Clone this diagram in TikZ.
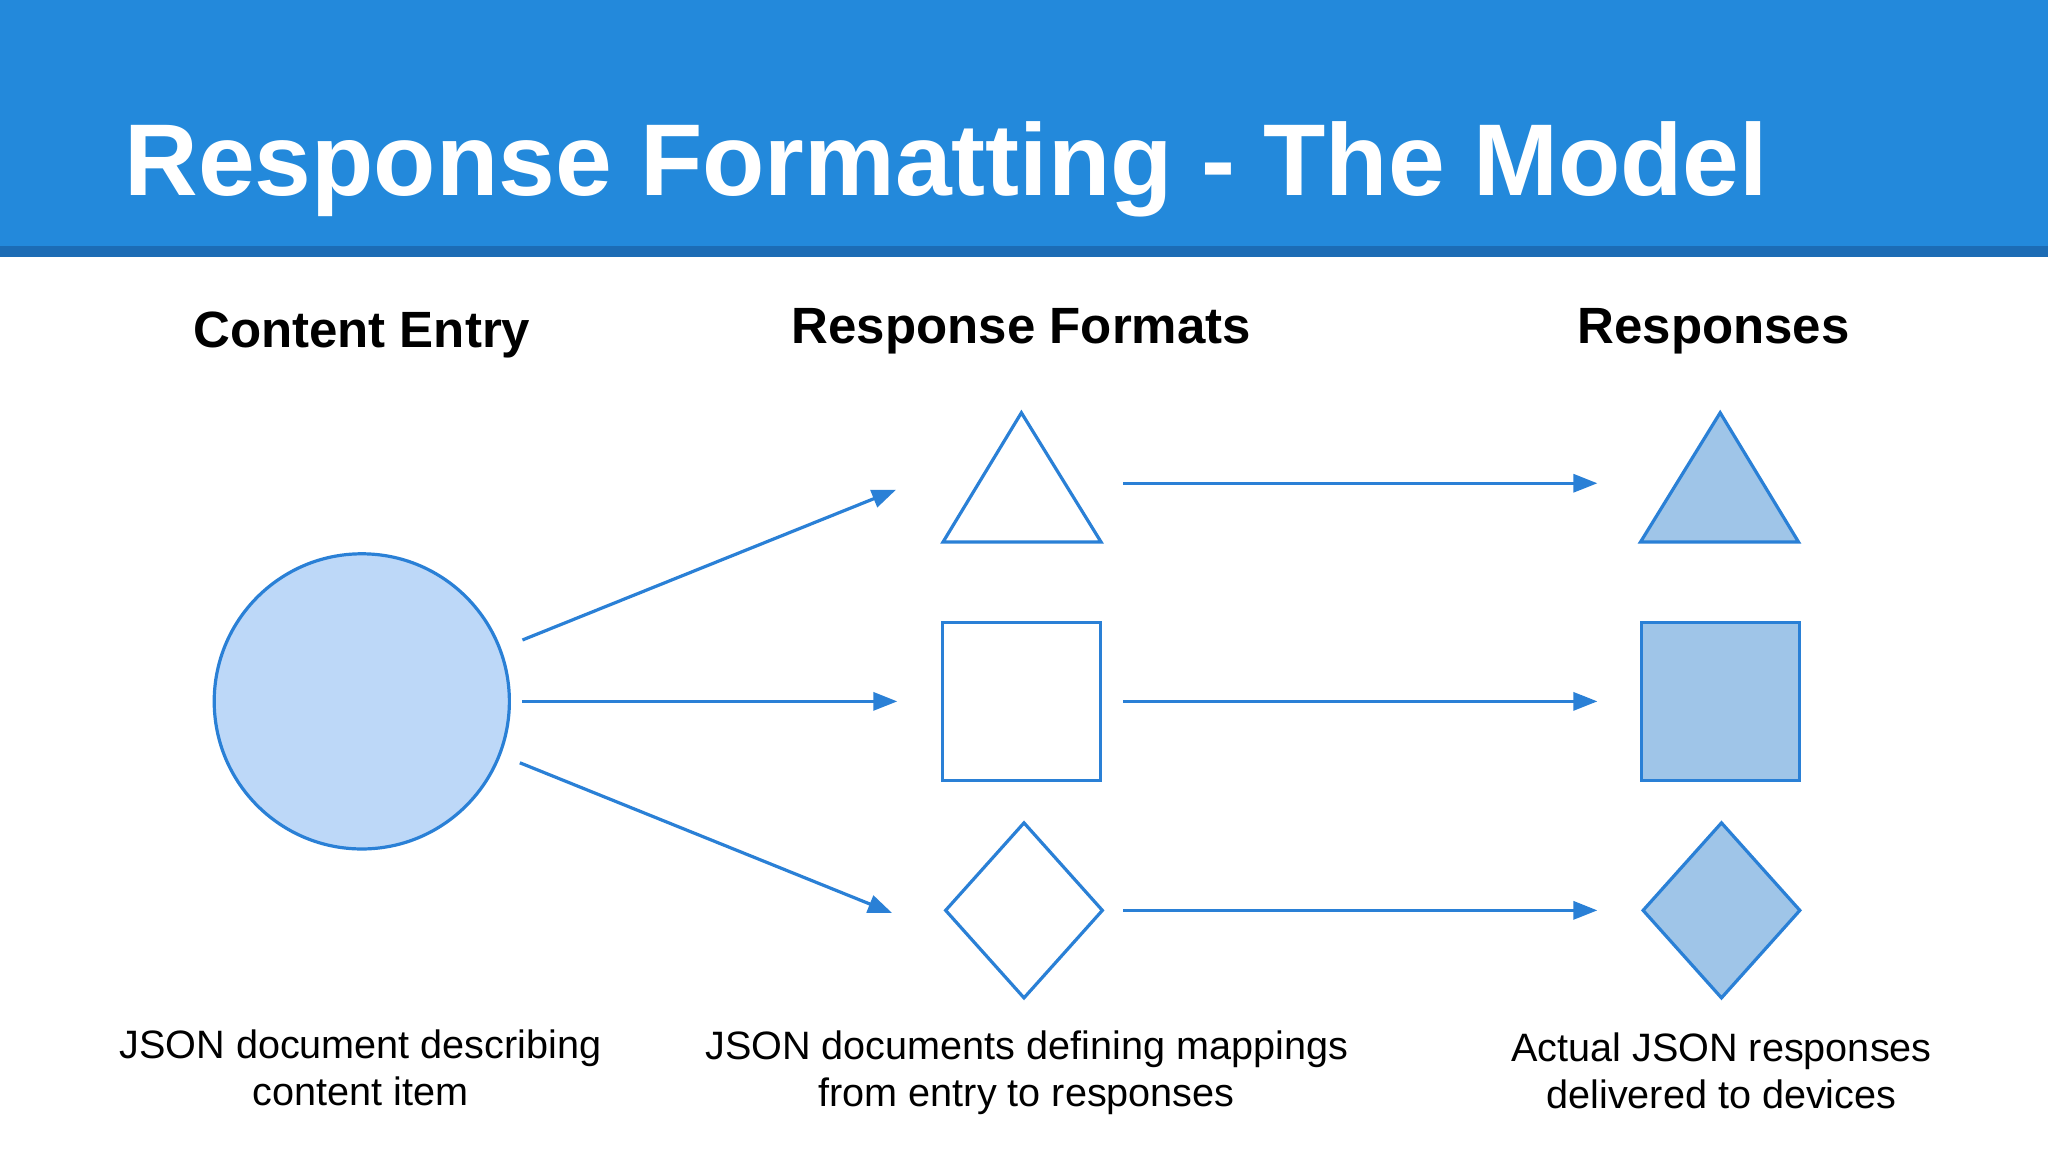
\documentclass[tikz,border=0pt]{standalone}
\usepackage{fontspec}
\setmainfont{Liberation Sans}
\usetikzlibrary{arrows.meta}
\definecolor{hdr}{HTML}{2389DB}
\definecolor{hdrd}{HTML}{1C6CB5}
\definecolor{ln}{HTML}{2A80D6}
\definecolor{fillA}{HTML}{9FC5E8}
\definecolor{fillC}{HTML}{BDD8F8}
\begin{document}
\begin{tikzpicture}[x=0.653pt,y=-0.653pt,
  shp/.style={draw=ln,line width=1.6pt,line join=miter},
  arr/.style={draw=ln,line width=1.6pt,-{Triangle[length=12pt,width=9pt]}},
  head/.style={font=\bfseries\fontsize{25.5}{29}\selectfont,anchor=base},
  body/.style={font=\fontsize{19.8}{23.5}\selectfont,align=center,anchor=north}]
\useasboundingbox (0,0) rectangle (1568,882);
\fill[white] (0,0) rectangle (1568,882);
\fill[hdr] (0,0) rectangle (1568,189);
\fill[hdrd] (0,188) rectangle (1568,197);
\node[anchor=base west,text=white,font=\bfseries\fontsize{51}{56}\selectfont,inner sep=0] (title) at (95,150) {Response Formatting - The Model};
\node[head] (h1) at (277,266) {Content Entry};
\node[head] (h2) at (782,263) {Response Formats};
\node[head] (h3) at (1312,263) {Responses};
\node[shp,fill=fillC,circle,minimum size=226*0.653pt,inner sep=0] (c) at (277,537) {};
\draw[shp] (782,316) -- (722,415) -- (843,415) -- cycle;
\node[shp,minimum size=121*0.653pt,inner sep=0] (s1) at (782,537) {};
\draw[shp] (784,630) -- (844,697) -- (784,764) -- (724,697) -- cycle;
\draw[shp,fill=fillA] (1317,316) -- (1256,415) -- (1377,415) -- cycle;
\node[shp,fill=fillA,minimum size=121*0.653pt,inner sep=0] (s2) at (1317,537) {};
\draw[shp,fill=fillA] (1318,630) -- (1378,697) -- (1318,764) -- (1258,697) -- cycle;
\coordinate (a1s) at (400,490); \coordinate (a1e) at (686,375);
\coordinate (a2s) at (400,537); \coordinate (a2e) at (687,537);
\coordinate (a3s) at (398,584); \coordinate (a3e) at (683,699);
\coordinate (b1s) at (860,370); \coordinate (b1e) at (1223,370);
\coordinate (b2s) at (860,537); \coordinate (b2e) at (1223,537);
\coordinate (b3s) at (860,697); \coordinate (b3e) at (1223,697);
\draw[arr] (a1s) -- (a1e);
\draw[arr] (a2s) -- (a2e);
\draw[arr] (a3s) -- (a3e);
\draw[arr] (b1s) -- (b1e);
\draw[arr] (b2s) -- (b2e);
\draw[arr] (b3s) -- (b3e);
\node[body] (d1) at (276,783) {JSON document describing\\content item};
\node[body] (d2) at (786,784) {JSON documents defining mappings\\from entry to responses};
\node[body] (d3) at (1318,785) {Actual JSON responses\\delivered to devices};
\end{tikzpicture}
\end{document}
